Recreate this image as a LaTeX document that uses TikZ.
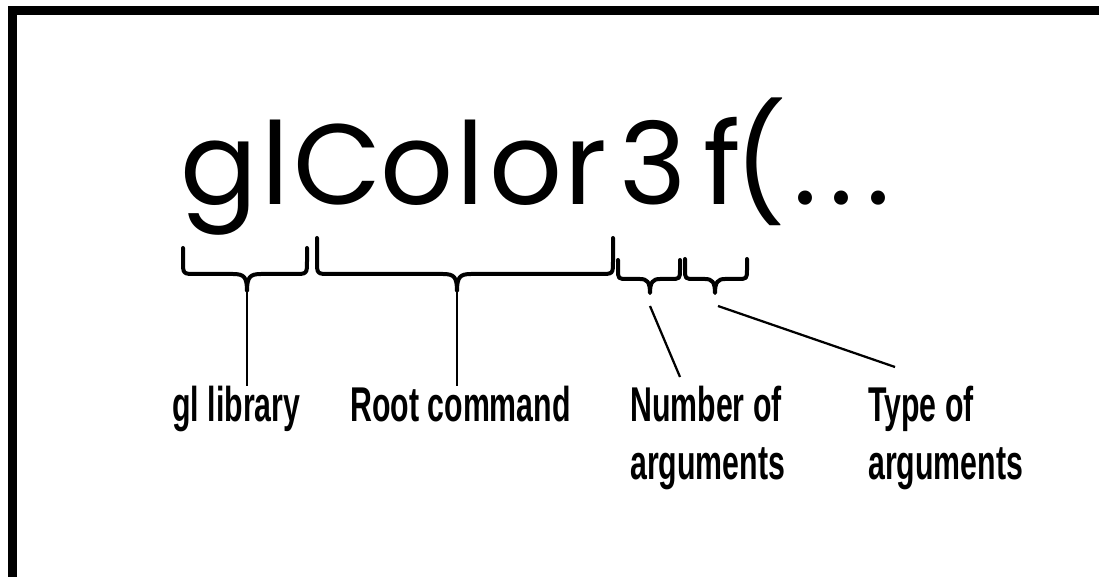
\documentclass[tikz,border=0pt]{standalone}
\usepackage{fontspec}
\setmainfont{Poppins}
\newfontfamily\labelfont[FakeStretch=0.62]{Liberation Sans}
\usetikzlibrary{calc}

\begin{document}
\begin{tikzpicture}[
    x=0.02cm, y=-0.02cm,
    glyph/.style={inner sep=0pt, anchor=base,
      font=\fontsize{65}{65}\selectfont},
    lbl/.style={inner sep=0pt, anchor=north west, align=left,
      font=\labelfont\bfseries\fontsize{27.8}{32.9}\selectfont},
    brc/.style={line width=0.08cm, line join=round, line cap=round},
    lead/.style={line width=0.045cm}
  ]
    \useasboundingbox (0,0) rectangle (1099,577);

    % --- Marco (solo arriba e izquierda) ---
    \draw[line width=0.18cm, line join=miter]
      (12.5,577) -- (12.5,10.5) -- (1099,10.5);

    % --- glColor3f(... ---
    \foreach \ch/\cx [count=\i] in {g/219, l/276, C/338, o/417, l/471,
        o/526, r/586, 3/653, f/722, \symbol{40}/760, ./805, ./841, ./878}
      \node[glyph] (ch\i) at (\cx,205) {\ch};

    % --- Llaves ---
    \foreach \xl/\xr/\xt/\yt/\yh/\yp/\r/\d/\nm in {
        183/307/247/248/274/291/13/14/b1,
        317/613/457/238/274/291/13/14/b2,
        618/680/650/260/279/293/10/10/b3,
        685/747/715/259/279/293/10/10/b4} {
      \draw[brc] (\xl,\yt) -- (\xl,\yh-\r)
        .. controls (\xl,\yh) .. (\xl+\r,\yh) -- (\xt-\d,\yh)
        .. controls (\xt-3,\yh) and (\xt,\yh+3) .. (\xt,\yp)
        .. controls (\xt,\yh+3) and (\xt+3,\yh) .. (\xt+\d,\yh)
        -- (\xr-\r,\yh) .. controls (\xr,\yh) .. (\xr,\yh-\r) -- (\xr,\yt);
      \coordinate (\nm) at (\xt,\yp);
    }

    % --- Etiquetas ---
    \node[lbl] (lib) at (172,386) {gl library};
    \node[lbl] (root) at (350,386) {Root command};
    \node[lbl] (num) at (630,386) {Number of\\arguments};
    \node[lbl] (typ) at (868,386) {Type of\\arguments};
    \coordinate (numend) at (680,377);
    \coordinate (typend) at (895,367);

    % --- Lineas ---
    \draw[lead] (b1) -- (b1 |- lib.north);
    \draw[lead] (b2) -- (b2 |- root.north);
    \draw[lead] ([yshift=-0.26cm]b3) -- (numend);
    \draw[lead] ([xshift=0.06cm,yshift=-0.26cm]b4) -- (typend);
  \end{tikzpicture}
\end{document}
